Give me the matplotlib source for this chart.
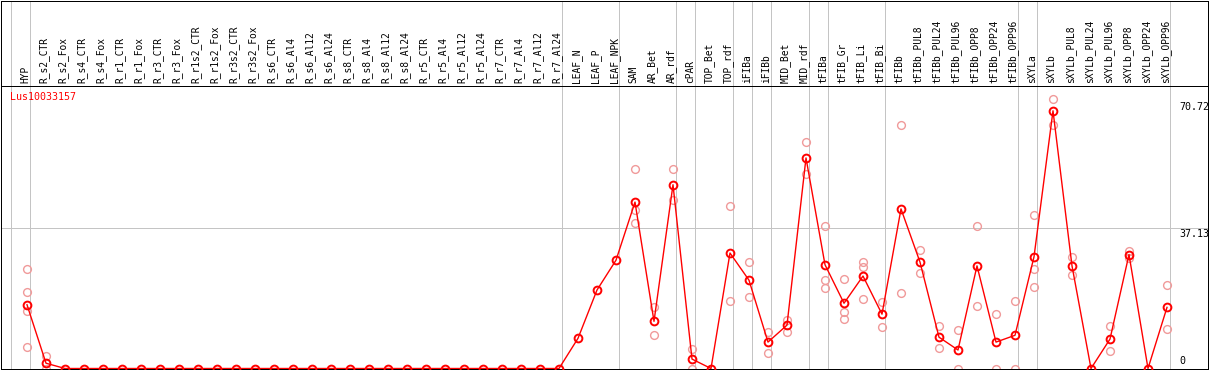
import numpy as np
import matplotlib.pyplot as plt

# -----------------------------
# Data
# -----------------------------
gene = "Lus10033157"

samples = [
    "HYP",
    "R_s2_CTR", "R_s2_Fox", "R_s4_CTR", "R_s4_Fox", "R_r1_CTR", "R_r1_Fox",
    "R_r3_CTR", "R_r3_Fox", "R_r1s2_CTR", "R_r1s2_Fox", "R_r3s2_CTR", "R_r3s2_Fox",
    "R_s6_CTR", "R_s6_Al4", "R_s6_Al12", "R_s6_Al24",
    "R_s8_CTR", "R_s8_Al4", "R_s8_Al12", "R_s8_Al24",
    "R_r5_CTR", "R_r5_Al4", "R_r5_Al12", "R_r5_Al24",
    "R_r7_CTR", "R_r7_Al4", "R_r7_Al12", "R_r7_Al24",
    "LEAF_N", "LEAF_P", "LEAF_NPK",
    "SAM", "AR_Bet", "AR_rdf", "cPAR", "TOP_Bet", "TOP_rdf",
    "iFIBa", "iFIBb", "MID_Bet", "MID_rdf",
    "tFIBa", "tFIB_Gr", "tFIB_Li", "tFIB_Bi",
    "tFIBb", "tFIBb_PUL8", "tFIBb_PUL24", "tFIBb_PUL96",
    "tFIBb_OPP8", "tFIBb_OPP24", "tFIBb_OPP96",
    "sXYLa",
    "sXYLb", "sXYLb_PUL8", "sXYLb_PUL24", "sXYLb_PUL96",
    "sXYLb_OPP8", "sXYLb_OPP24", "sXYLb_OPP96",
]

means = [
    16.9,
    1.4, 0, 0, 0, 0, 0, 0, 0, 0, 0, 0, 0,
    0, 0, 0, 0,
    0, 0, 0, 0,
    0, 0, 0, 0,
    0, 0, 0, 0,
    8.0, 20.8, 28.7,
    44.1, 12.5, 48.7, 2.5, 0.0, 30.6,
    23.4, 7.0, 11.5, 55.8,
    27.5, 17.3, 24.5, 14.4,
    42.3, 28.2, 8.3, 4.9,
    27.2, 7.0, 8.8,
    29.6,
    68.3, 27.2, 0.0, 7.8,
    30.2, 0.0, 16.2,
]

replicates = {
    "HYP": [26.4, 20.3, 15.3, 5.6],
    "R_s2_CTR": [3.3, 0.0],
    "SAM": [52.9, 42.1, 38.5],
    "AR_Bet": [16.4, 8.8],
    "AR_rdf": [52.9, 44.7],
    "cPAR": [5.1, 0.0],
    "TOP_rdf": [43.1, 17.8],
    "iFIBa": [28.2, 19.0],
    "iFIBb": [9.7, 4.2],
    "MID_Bet": [12.9, 9.8],
    "MID_rdf": [60.0, 51.5],
    "tFIBa": [37.8, 23.5, 21.3],
    "tFIB_Gr": [23.7, 14.9, 13.1],
    "tFIB_Li": [28.3, 27.0, 18.4],
    "tFIB_Bi": [17.6, 10.9],
    "tFIBb": [64.4, 20.0],
    "tFIBb_PUL8": [31.4, 25.3],
    "tFIBb_PUL24": [11.3, 5.4],
    "tFIBb_PUL96": [10.2, 0.0],
    "tFIBb_OPP8": [37.8, 16.5],
    "tFIBb_OPP24": [14.5, 0.0],
    "tFIBb_OPP96": [17.9, 0.0],
    "sXYLa": [40.7, 26.3, 21.5],
    "sXYLb": [71.5, 64.6],
    "sXYLb_PUL8": [29.5, 24.7],
    "sXYLb_PUL96": [11.2, 4.6],
    "sXYLb_OPP8": [31.1, 29.4],
    "sXYLb_OPP96": [22.2, 10.5],
}

# last sample of each group (a separator line is drawn after it)
group_ends = ["HYP", "R_r7_Al24", "LEAF_NPK", "AR_rdf", "cPAR", "TOP_rdf",
              "iFIBa", "iFIBb", "MID_rdf", "tFIBa", "tFIB_Bi",
              "tFIBb_OPP96", "sXYLa", "sXYLb_OPP96"]

y_ticks = [0, 37.13, 70.72]
grid_lines = [37.13]

# -----------------------------
# Layout (pixels)
# -----------------------------
W, H = 1209, 370
step = 19           # px per sample
first_x = 27        # px of first sample
left_px, right_px = 1, 1208
top_px, header_px, bottom_px = 0.5, 85.5, 368.5
plot_max = 75.0

x = np.arange(len(samples))

fig = plt.figure(figsize=(W / 100, H / 100), dpi=100)
ax = fig.add_axes([left_px / W, (H - bottom_px) / H,
                   (right_px - left_px) / W, (bottom_px - top_px) / H])

ax.set_xlim((left_px - first_x) / step, (right_px - first_x) / step)
ymax = plot_max * (bottom_px - top_px) / (bottom_px - header_px)
ax.set_ylim(0, ymax)

for s in ax.spines.values():
    s.set_linewidth(0.72)
    s.set_color("black")
ax.set_xticks([])
ax.set_yticks([])

grey = "#c4c4c4"
sep_off = 3 / step
ax.axvline(-1 + sep_off, color=grey, lw=0.72, zorder=0)
for name in group_ends:
    ax.axvline(samples.index(name) + sep_off, color=grey, lw=0.72, zorder=0)
for g in grid_lines:
    ax.axhline(g, color=grey, lw=0.72, zorder=0)

ax.axhline(plot_max, color="black", lw=0.72, zorder=1)

# -----------------------------
# Header labels
# -----------------------------
for i, lbl in enumerate(samples):
    ax.annotate(lbl, (i, plot_max), xytext=(-1.3, 1.6),
                textcoords="offset points", rotation=90,
                ha="center", va="bottom",
                fontfamily="DejaVu Sans Mono", fontsize=6.9)

ax.annotate(gene, (0, plot_max), xycoords=("axes fraction", "data"),
            xytext=(6.5, -4.8), textcoords="offset points",
            ha="left", va="top", color="red",
            fontfamily="DejaVu Sans Mono", fontsize=7.2)

for t in y_ticks:
    ax.annotate(f"{t:g}", (1, t), xycoords=("axes fraction", "data"),
                xytext=(-20.9, 2.0 if t == 0 else -0.3),
                textcoords="offset points", ha="left",
                va="bottom" if t == 0 else "top",
                fontfamily="DejaVu Sans Mono", fontsize=7.2)

# -----------------------------
# Data
# -----------------------------
rep_x, rep_y = [], []
for name, vals in replicates.items():
    i = samples.index(name)
    rep_x += [i] * len(vals)
    rep_y += vals

ax.plot(rep_x, rep_y, "o", ms=5.6, mfc="none", mec="#f09a9a", mew=1.0, zorder=2)
ax.plot(x, means, "-", color="red", lw=1.0, zorder=3)
ax.plot(x, means, "o", ms=5.6, mfc="none", mec="red", mew=1.4, zorder=4)

fig.savefig("out.png", dpi=100)
